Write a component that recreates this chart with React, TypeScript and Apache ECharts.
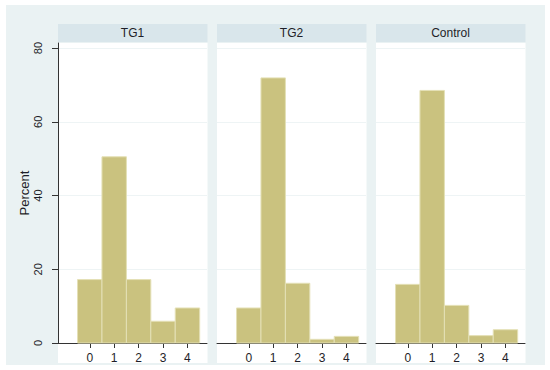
import React, { useEffect, useRef } from "react";
import * as echarts from "echarts";

const panels = ["TG1", "TG2", "Control"];
const categories = [0, 1, 2, 3, 4];
const tg1 = [17.2, 50.5, 17.2, 5.9, 9.5];
const tg2 = [9.5, 71.9, 16.2, 1.0, 1.8];
const control = [15.9, 68.5, 10.2, 2.0, 3.6];
const yTicks = [0, 20, 40, 60, 80];
const seriesValues = [tg1, tg2, control];

const FONT = "Liberation Sans, Arial, sans-serif";
const BAR = "#CAC27F";
const BAR_EDGE = "#E4E0B6";
const BG = "#EAF2F3";
const STRIP = "#D9E6EB";
const TEXT = "#1e1e28";

export default function App() {
  const ref = useRef<HTMLDivElement>(null);
  useEffect(() => {
    document.body.style.margin = "0";
    const chart = echarts.init(ref.current!, null, { renderer: "svg" });
    const lefts = [58, 217, 376];
    const gw = 149;
    const top = 43;
    const gh = 300;

    const grids = lefts.map((l) => ({ left: l, top, width: gw, height: gh, containLabel: false }));
    const xAxes = lefts.map((_, i) => ({
      type: "value",
      gridIndex: i,
      min: -1.3,
      max: 4.8,
      axisLine: { show: true, onZero: false, lineStyle: { color: "#333", width: 1 } },
      axisTick: { show: true, customValues: categories, length: 5, lineStyle: { color: "#333" } },
      axisLabel: { customValues: categories, color: TEXT, fontSize: 12, fontFamily: FONT, margin: 9 },
      splitLine: { show: false },
    }));
    const yAxes = lefts.map((_, i) => ({
      type: "value",
      gridIndex: i,
      min: 0,
      max: 81.36,
      name: i === 0 ? "Percent" : "",
      nameLocation: "middle",
      nameGap: 27,
      nameTextStyle: { color: TEXT, fontSize: 13, fontFamily: FONT },
      axisLine: { show: i === 0, onZero: false, lineStyle: { color: "#333", width: 1 } },
      axisTick: { show: i === 0, customValues: yTicks, length: 6, lineStyle: { color: "#333" } },
      axisLabel: {
        show: i === 0,
        customValues: yTicks,
        rotate: 90,
        color: TEXT,
        fontSize: 11,
        fontFamily: FONT,
        margin: 15,
      },
      splitLine: { show: true, lineStyle: { color: "#EEF4F5", width: 1 } },
    }));

    const series = seriesValues.map((vals, i) => ({
      type: "custom",
      xAxisIndex: i,
      yAxisIndex: i,
      encode: { x: 0, y: 1 },
      data: categories.map((c, j) => [c, vals[j]]),
      renderItem: (params: any, api: any) => {
        const x = api.value(0);
        const y = api.value(1);
        const p0 = api.coord([x - 0.5, y]);
        const p1 = api.coord([x + 0.5, 0]);
        return {
          type: "rect",
          shape: { x: p0[0], y: p0[1], width: p1[0] - p0[0], height: p1[1] - p0[1] },
          style: { fill: BAR, stroke: BAR_EDGE, lineWidth: 1 },
        };
      },
    }));

    const graphics: any[] = [
      { type: "rect", z: -20, shape: { x: 6, y: 5, width: 539, height: 360 }, style: { fill: BG }, silent: true },
    ];
    lefts.forEach((l, i) => {
      graphics.push({
        type: "rect",
        z: -10,
        shape: { x: l, y: 43, width: gw + 0.5, height: 320 },
        style: { fill: "#ffffff" },
        silent: true,
      });
      graphics.push({
        type: "rect",
        z: -10,
        shape: { x: l, y: 24, width: gw + 0.5, height: 18 },
        style: { fill: STRIP },
        silent: true,
      });
      graphics.push({
        type: "text",
        z: 10,
        x: l + gw / 2,
        y: 33,
        style: {
          text: panels[i],
          fill: TEXT,
          font: `12px ${FONT}`,
          align: "center",
          verticalAlign: "middle",
        },
        silent: true,
      });
    });

    chart.setOption({
      animation: false,
      backgroundColor: "#ffffff",
      graphic: { z: -5, elements: graphics },
      grid: grids,
      xAxis: xAxes,
      yAxis: yAxes,
      series,
    } as any);
    return () => chart.dispose();
  }, []);
  return <div ref={ref} style={{ width: 550, height: 370 }} />;
}
